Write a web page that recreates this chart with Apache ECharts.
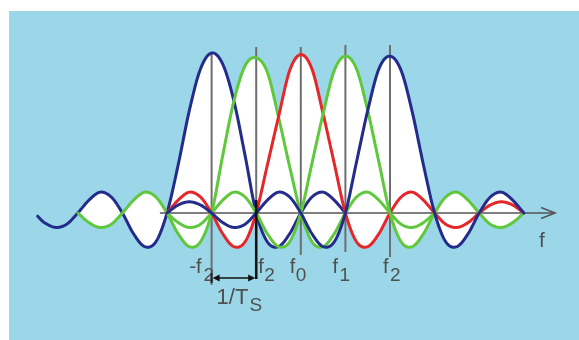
<!DOCTYPE html>
<html>
<head>
<meta charset="utf-8">
<script src="https://cdn.jsdelivr.net/npm/echarts@6/dist/echarts.min.js"></script>
<style>
html,body{margin:0;padding:0;background:#ffffff;}
#chart{width:579px;height:340px;}
</style>
</head>
<body>
<div id="chart"></div>
<script>
// Frequency positions in units of subcarrier spacing (1/Ts)
const U = [-2.9, -2.75, -2.5, -2.25, -2, -1.75, -1.5, -1.25, -1, -0.75, -0.5, -0.25,
  0, 0.25, 0.5, 0.75, 1, 1.25, 1.5, 1.75, 2, 2.25, 2.5, 2.75, 3, 3.25, 3.5, 3.75,
  4, 4.25, 4.5, 4.75, 5, 5.25, 5.5, 5.75, 6, 6.25, 6.5, 6.75, 7, 7.25, 7.5, 7.75, 8];

const blueLeft = [-0.02, -0.06, -0.09, -0.07, 0, 0.08, 0.13, 0.10, 0, -0.13, -0.21, -0.18,
  0, 0.30, 0.64, 0.90, 1.00, 0.93, 0.70, 0.36, 0, -0.18, -0.21, -0.13, 0, 0.10, 0.13, 0.08,
  0, null, null, null, null, null, null, null, null, null, null, null, null, null, null, null, null];

const green1 = [null, null, null, null, 0, -0.06, -0.09, -0.07, 0, 0.08, 0.13, 0.10,
  0, -0.13, -0.21, -0.18, 0, 0.36, 0.70, 0.92, 0.97, 0.88, 0.60, 0.29, 0, -0.18, -0.21, -0.13,
  0, 0.10, 0.13, 0.08, 0, -0.07, -0.09, -0.06, 0, null, null, null, null, null, null, null, null];

const red = [null, null, null, null, null, null, null, null, null, null, null, null,
  0, 0.08, 0.13, 0.10, 0, -0.13, -0.21, -0.18, 0, 0.30, 0.60, 0.89, 0.99, 0.90, 0.62, 0.31,
  0, -0.18, -0.21, -0.13, 0, 0.10, 0.13, 0.08, 0, -0.07, -0.09, -0.06, 0, 0.05, 0.07, 0.05, 0];

const green2 = [null, null, null, null, null, null, null, null, null, null, null, null,
  0, -0.06, -0.09, -0.07, 0, 0.08, 0.13, 0.10, 0, -0.13, -0.21, -0.18, 0, 0.31, 0.62, 0.89,
  0.98, 0.90, 0.64, 0.32, 0, -0.18, -0.21, -0.13, 0, 0.10, 0.13, 0.08, 0, -0.07, -0.09, -0.06, 0];

const blueRight = [null, null, null, null, null, null, null, null, null, null, null, null,
  0, 0.05, 0.07, 0.05, 0, -0.06, -0.09, -0.07, 0, 0.08, 0.13, 0.10, 0, -0.13, -0.21, -0.18,
  0, 0.32, 0.64, 0.90, 0.98, 0.89, 0.63, 0.30, 0, -0.18, -0.21, -0.13, 0, 0.10, 0.13, 0.08, 0];

// Subcarrier markers
const markerPos = [1, 2, 3, 4, 5];
const markerNames = ['-f', 'f', 'f', 'f', 'f'];
const markerSubs = ['2', '2', '0', '1', '2'];

// Spacing annotation and axis
const spacingSpan = [1, 2];
const spacingLabel = '1/T';
const spacingSub = 'S';
const axisSpan = [-0.16, 8.7];
const axisName = 'f';

// ---------- styling ----------
const C_BLUE = '#232c8a', C_RED = '#e4272b', C_GREEN = '#5fc83c';
const BG = '#9bd7e8';
const TXT = '#4f4f4f';
const FONT = '"Liberation Sans", Arial, sans-serif';

const curves = [
  { d: blueLeft, c: C_BLUE, fillFrom: -2 },
  { d: green1, c: C_GREEN },
  { d: red, c: C_RED },
  { d: green2, c: C_GREEN },
  { d: blueRight, c: C_BLUE }
];

function curvePoints(ci, fromU) {
  const vals = curves[ci].d, out = [];
  for (let i = 0; i < U.length; i++) {
    if (vals[i] === null) continue;
    if (fromU !== undefined && U[i] < fromU) continue;
    out.push([U[i], vals[i]]);
  }
  return out;
}

// Catmull-Rom rendering of the data points (pixel space)
function spline(P) {
  const out = [], n = P.length, S = 14;
  for (let i = 0; i < n - 1; i++) {
    const p0 = P[Math.max(i - 1, 0)], p1 = P[i], p2 = P[i + 1], p3 = P[Math.min(i + 2, n - 1)];
    for (let s = 0; s < S; s++) {
      const t = s / S, t2 = t * t, t3 = t2 * t;
      const f = k => 0.5 * (2 * p1[k] + (-p0[k] + p2[k]) * t + (2 * p0[k] - 5 * p1[k] + 4 * p2[k] - p3[k]) * t2 + (-p0[k] + 3 * p1[k] - 3 * p2[k] + p3[k]) * t3);
      out.push([f(0), f(1)]);
    }
  }
  out.push(P[n - 1]);
  return out;
}

const series = [];

// white fills between each curve and the axis
series.push({
  type: 'custom', z: 1, silent: true, clip: false,
  data: curves.map((c, i) => [i]),
  renderItem: function (params, api) {
    const ci = params.dataIndex;
    const raw = curvePoints(ci, curves[ci].fillFrom).map(p => api.coord(p));
    const sp = spline(raw);
    const y0 = api.coord([0, 0])[1];
    sp.push([sp[sp.length - 1][0], y0]);
    sp.push([sp[0][0], y0]);
    return { type: 'polygon', shape: { points: sp }, style: { fill: '#ffffff', stroke: null } };
  }
});

// markers (vertical lines + labels)
const lineTop = [-161, -166, -166, -168, -168];
const lineBottom = [72, 66, 42, 39, 44];
const labelLayout = [
  { fx: -10, fa: 'right', sx: -8 },
  { fx: 2, fa: 'left', sx: 8 },
  { fx: -11, fa: 'left', sx: -5 },
  { fx: -13, fa: 'left', sx: -6 },
  { fx: -7, fa: 'left', sx: 0 }
];

series.push({
  type: 'custom', z: 2, silent: true, clip: false,
  data: markerPos.map((u, i) => [u, i]),
  renderItem: function (params, api) {
    const i = params.dataIndex;
    const p = api.coord([api.value(0), 0]);
    const X = p[0], Y0 = p[1];
    const L = labelLayout[i];
    return {
      type: 'group',
      children: [
        { type: 'line', shape: { x1: X, y1: Y0 + lineTop[i], x2: X, y2: Y0 + lineBottom[i] },
          style: { stroke: '#6e6e6e', lineWidth: 2 } },
        { type: 'text', style: { text: markerNames[i], x: X + L.fx, y: Y0 + 54, fill: TXT,
          font: '20px ' + FONT, align: L.fa, verticalAlign: 'middle' } },
        { type: 'text', style: { text: markerSubs[i], x: X + L.sx, y: Y0 + 63, fill: TXT,
          font: '19px ' + FONT, align: 'left', verticalAlign: 'middle' } }
      ]
    };
  }
});

// axis line with open arrow
series.push({
  type: 'custom', z: 2, silent: true, clip: false,
  data: [axisSpan],
  renderItem: function (params, api) {
    const a = api.coord([api.value(0), 0]);
    const b = api.coord([api.value(1), 0]);
    return {
      type: 'group',
      children: [
        { type: 'line', shape: { x1: a[0], y1: a[1], x2: b[0], y2: b[1] },
          style: { stroke: '#555555', lineWidth: 1.6 } },
        { type: 'polyline', shape: { points: [[b[0] - 14, b[1] - 5.5], [b[0], b[1]], [b[0] - 14, b[1] + 5.5]] },
          style: { stroke: '#555555', lineWidth: 1.6, fill: null } },
        { type: 'text', style: { text: axisName, x: b[0] - 16, y: b[1] + 28, fill: TXT,
          font: '21px ' + FONT, align: 'left', verticalAlign: 'middle' } }
      ]
    };
  }
});

// curves
series.push({
  type: 'custom', z: 3, silent: true, clip: false,
  data: curves.map((c, i) => [i]),
  renderItem: function (params, api) {
    const ci = params.dataIndex;
    const raw = curvePoints(ci).map(p => api.coord(p));
    return { type: 'polyline', shape: { points: spline(raw) },
      style: { stroke: curves[ci].c, lineWidth: 3, fill: null, lineJoin: 'round', lineCap: 'round' } };
  }
});

// spacing arrow 1/Ts
series.push({
  type: 'custom', z: 4, silent: true, clip: false,
  data: [spacingSpan],
  renderItem: function (params, api) {
    const a = api.coord([api.value(0), 0]);
    const b = api.coord([api.value(1), 0]);
    const y = a[1] + 65;
    const x1 = a[0] + 1, x2 = b[0] - 1;
    return {
      type: 'group',
      children: [
        { type: 'line', shape: { x1: b[0], y1: a[1] - 13, x2: b[0], y2: y + 1 },
          style: { stroke: '#111111', lineWidth: 2.5 } },
        { type: 'line', shape: { x1: a[0], y1: y - 5, x2: a[0], y2: y + 5 },
          style: { stroke: '#222222', lineWidth: 2 } },
        { type: 'line', shape: { x1: x1 + 4, y1: y, x2: x2 - 4, y2: y },
          style: { stroke: '#111111', lineWidth: 1.5 } },
        { type: 'polygon', shape: { points: [[x1, y], [x1 + 7, y - 3.5], [x1 + 7, y + 3.5]] },
          style: { fill: '#111111' } },
        { type: 'polygon', shape: { points: [[x2, y], [x2 - 7, y - 3.5], [x2 - 7, y + 3.5]] },
          style: { fill: '#111111' } },
        { type: 'text', style: { text: spacingLabel, x: a[0] + 5, y: y + 20, fill: TXT,
          font: '22px ' + FONT, align: 'left', verticalAlign: 'middle' } },
        { type: 'text', style: { text: spacingSub, x: a[0] + 38, y: y + 28, fill: TXT,
          font: '19px ' + FONT, align: 'left', verticalAlign: 'middle' } }
      ]
    };
  }
});

const chart = echarts.init(document.getElementById('chart'), null, { renderer: 'canvas' });
chart.setOption({
  animation: false,
  backgroundColor: '#ffffff',
  graphic: [{
    type: 'rect', z: -10, silent: true,
    shape: { x: 9, y: 11, width: 570, height: 329 },
    style: { fill: BG }
  }],
  grid: { left: 33.2, right: 10.6, top: 21, bottom: 31 },
  xAxis: { type: 'value', min: -3, max: 9, show: false },
  yAxis: { type: 'value', min: -0.6, max: 1.2, show: false },
  series: series
});
</script>
</body>
</html>
